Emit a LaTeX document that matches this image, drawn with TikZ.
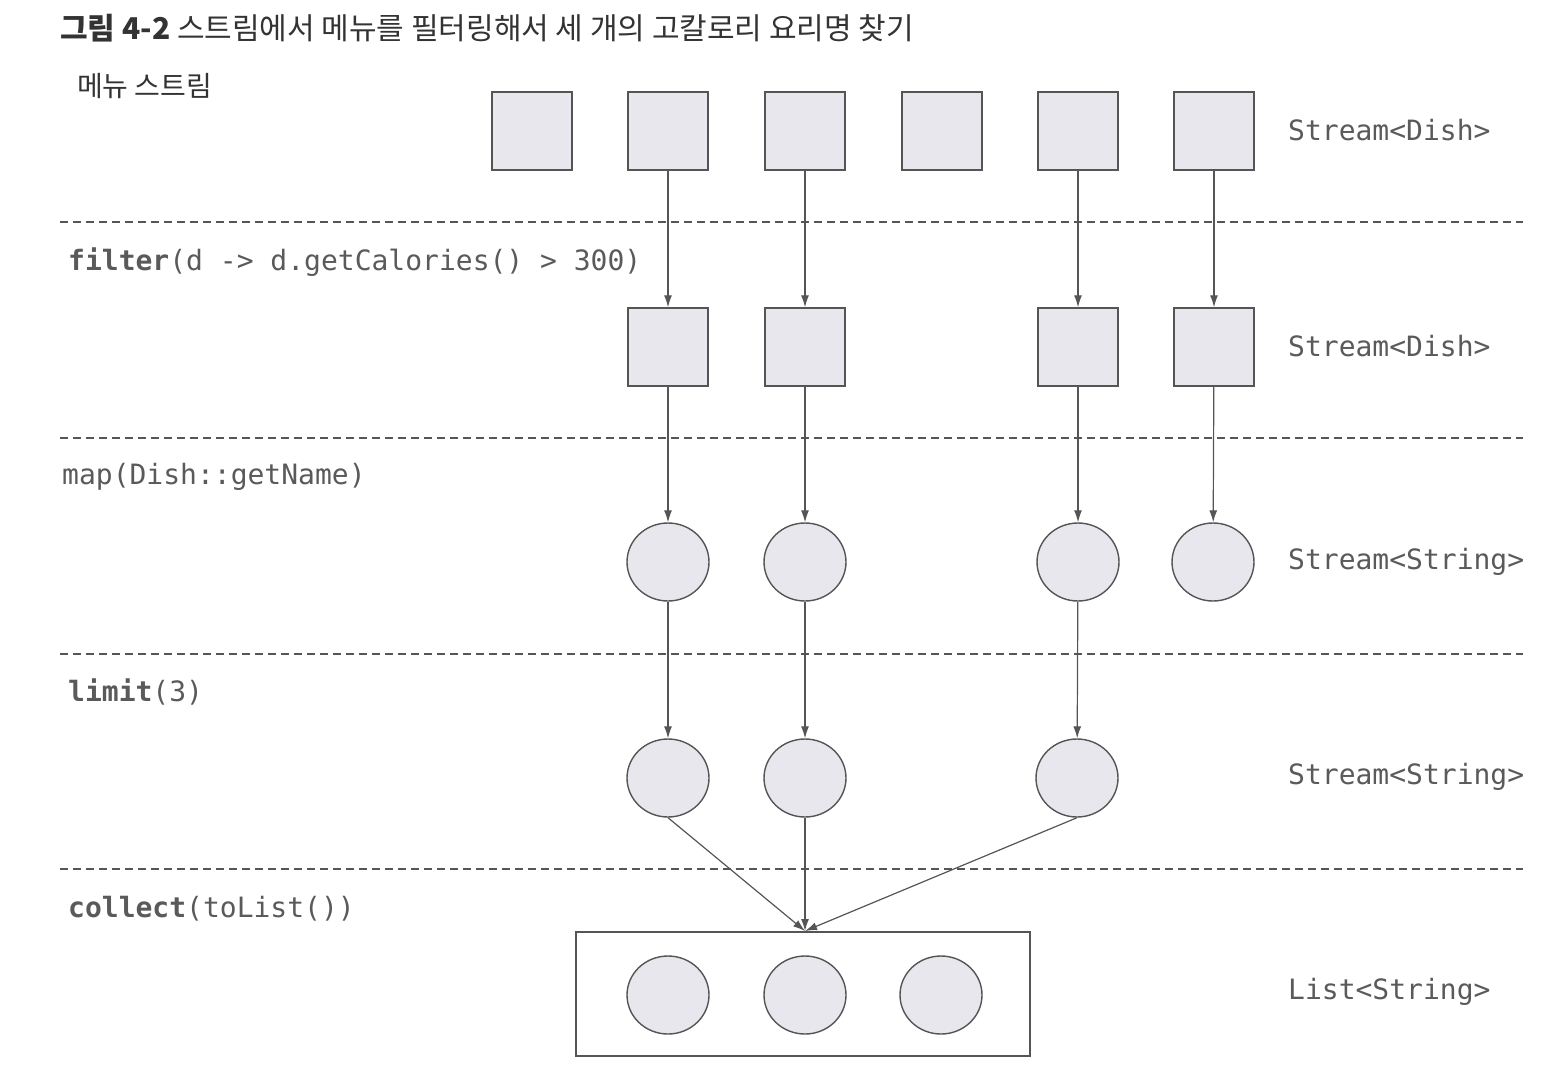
\documentclass[tikz,border=0pt]{standalone}
\usepackage{fontspec}
\setmonofont{DejaVu Sans Mono}
\newfontfamily\kr{Noto Sans CJK KR}
\usetikzlibrary{arrows.meta,shapes.geometric}
\definecolor{ink}{HTML}{555555}
\definecolor{txt}{HTML}{5A5A5A}
\definecolor{ttl}{HTML}{333333}
\definecolor{fillc}{HTML}{E7E7ED}
\begin{document}
\begin{tikzpicture}[x=1pt,y=-1pt,
  sq/.style={draw=ink, line width=1.4pt, fill=fillc, minimum width=80pt, minimum height=78pt, inner sep=0pt},
  dot/.style={ellipse, draw=ink, line width=1.4pt, fill=fillc, minimum width=82pt, minimum height=78pt, inner sep=0pt},
  sepline/.style={draw=ink, line width=1.2pt, dash pattern=on 8pt off 5pt},
  flow/.style={draw=ink, line width=1.2pt, -{Latex[length=12pt,width=8pt]}},
  lbl/.style={anchor=west, text=txt, font=\ttfamily\fontsize{28}{30}\selectfont, inner sep=0pt},
  krt/.style={anchor=west, inner sep=0pt}
]
\useasboundingbox[fill=white] (0,0) rectangle (1547,1089);

% title
\node[krt, text=ttl, font=\kr\fontsize{30}{34}\selectfont] (title) at (60,28) {\textbf{그림 4-2} 스트림에서 메뉴를 필터링해서 세 개의 고칼로리 요리명 찾기};
\node[krt, text=ttl, font=\kr\fontsize{28}{32}\selectfont] (menu) at (77,86) {메뉴 스트림};

% separators
\foreach \yy in {222,438,654,869} \draw[sepline] (60,\yy) -- (1523,\yy);

% row 1
\node[sq] (a1) at (532,131) {};
\node[sq] (a2) at (668,131) {};
\node[sq] (a3) at (805,131) {};
\node[sq] (a4) at (942,131) {};
\node[sq] (a5) at (1078,131) {};
\node[sq] (a6) at (1214,131) {};
\node[lbl] (t1) at (1288,130) {Stream<Dish>};

% row 2
\node[lbl] (op1) at (68,262) {\textbf{filter}(d -> d.getCalories() > 300)};
\node[sq] (b1) at (668,347) {};
\node[sq] (b2) at (805,347) {};
\node[sq] (b3) at (1078,347) {};
\node[sq] (b4) at (1214,347) {};
\node[lbl] (t2) at (1288,346) {Stream<Dish>};

% row 3
\node[lbl] (op2) at (62,477) {map(Dish::getName)};
\node[dot] (c1) at (668,562) {};
\node[dot] (c2) at (805,562) {};
\node[dot] (c3) at (1078,562) {};
\node[dot] (c4) at (1213,562) {};
\node[lbl] (t3) at (1288,562) {Stream<String>};

% row 4
\node[lbl] (op3) at (68,692) {\textbf{limit}(3)};
\node[dot] (d1) at (668,778) {};
\node[dot] (d2) at (805,778) {};
\node[dot] (d3) at (1077,778) {};
\node[lbl] (t4) at (1288,777) {Stream<String>};

% row 5
\node[lbl] (op4) at (68,909) {\textbf{collect}(toList())};
\node[draw=ink, line width=1.4pt, minimum width=454pt, minimum height=124pt, inner sep=0pt] (box) at (803,994) {};
\node[dot] (e1) at (668,995) {};
\node[dot] (e2) at (805,995) {};
\node[dot] (e3) at (941,995) {};
\node[lbl] (t5) at (1288,992) {List<String>};
\coordinate (hit) at (805,931);

% connectors
\draw[flow] (a2) -- (b1);
\draw[flow] (a3) -- (b2);
\draw[flow] (a5) -- (b3);
\draw[flow] (a6) -- (b4);
\draw[flow] (b1) -- (c1);
\draw[flow] (b2) -- (c2);
\draw[flow] (b3) -- (c3);
\draw[flow] (b4) -- (c4);
\draw[flow] (c1) -- (d1);
\draw[flow] (c2) -- (d2);
\draw[flow] (c3) -- (d3);
\draw[flow] (d1.south) -- (hit);
\draw[flow] (d2.south) -- (hit);
\draw[flow] (d3.south) -- (hit);
\end{tikzpicture}
\end{document}
